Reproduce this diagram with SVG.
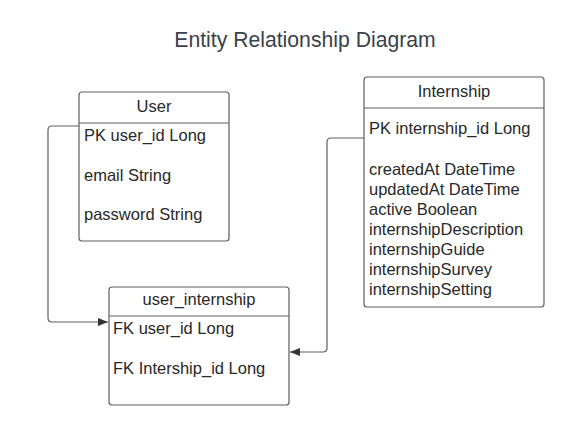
<svg xmlns="http://www.w3.org/2000/svg" width="578" height="432" viewBox="0 0 578 432">
<defs>
<marker id="arr" viewBox="0 0 10 10" refX="10" refY="5" markerWidth="10" markerHeight="10" markerUnits="userSpaceOnUse" orient="auto">
<path d="M0,1 L10,5 L0,9 Z" fill="#333"/>
</marker>
<style>
.box{fill:#fff;stroke:#5e5e5e;stroke-width:1.2}
.div{stroke:#5e5e5e;stroke-width:1.2}
text{font-family:"Liberation Sans",Arial,sans-serif;font-size:16.5px;fill:#282828}
.c{text-anchor:middle}
.conn{fill:none;stroke:#5e5e5e;stroke-width:1.2}
</style>
</defs>
<rect width="578" height="432" fill="#fff"/>
<text x="305" y="47" class="c" style="font-size:21.2px;fill:#3a414a">Entity Relationship Diagram</text>
<g id="connectors">
<path class="conn" d="M79,126 H52 Q48,126 48,130 V318 Q48,322 52,322 H108" marker-end="url(#arr)"/>
<path class="conn" d="M364,138 H331 Q327,138 327,142 V348 Q327,352 323,352 H290" marker-end="url(#arr)"/>
</g>
<g id="user">
<rect class="box" x="79" y="92" width="150" height="149" rx="3"/>
<line class="div" x1="79" y1="123" x2="229" y2="123"/>
<text x="154" y="112" class="c">User</text>
<text x="84" y="141">PK user_id Long</text>
<text x="84" y="181">email String</text>
<text x="84" y="220">password String</text>
</g>
<g id="internship">
<rect class="box" x="364" y="77" width="180" height="230" rx="3"/>
<line class="div" x1="364" y1="108" x2="544" y2="108"/>
<text x="454" y="97" class="c">Internship</text>
<text x="369" y="134">PK internship_id Long</text>
<text x="369" y="175">createdAt DateTime</text>
<text x="369" y="195">updatedAt DateTime</text>
<text x="369" y="215">active Boolean</text>
<text x="369" y="235">internshipDescription</text>
<text x="369" y="255">internshipGuide</text>
<text x="369" y="275">internshipSurvey</text>
<text x="369" y="295">internshipSetting</text>
</g>
<g id="user_internship">
<rect class="box" x="109" y="287" width="180" height="118" rx="3"/>
<line class="div" x1="109" y1="316" x2="289" y2="316"/>
<text x="199" y="305" class="c">user_internship</text>
<text x="113" y="334">FK user_id Long</text>
<text x="113" y="374">FK Intership_id Long</text>
</g>
</svg>
